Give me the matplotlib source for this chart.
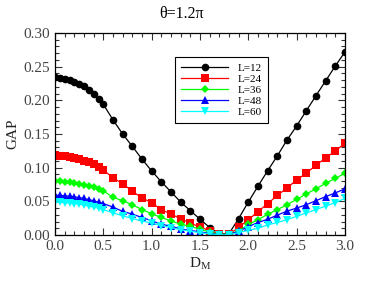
import numpy as np
import matplotlib
matplotlib.use("Agg")
from matplotlib import pyplot as plt
from matplotlib.ticker import MultipleLocator

# D_M grid: step 0.05 up to 0.5, then step 0.1
dm = [0.0, 0.05, 0.1, 0.15, 0.2, 0.25, 0.3, 0.35, 0.4, 0.45, 0.5,
      0.6, 0.7, 0.8, 0.9, 1.0, 1.1, 1.2, 1.3, 1.4, 1.5, 1.6, 1.7, 1.8,
      1.9, 2.0, 2.1, 2.2, 2.3, 2.4, 2.5, 2.6, 2.7, 2.8, 2.9, 3.0]

gap_12 = [0.234, 0.233, 0.2316, 0.2296, 0.227, 0.2245, 0.2206, 0.216, 0.2095, 0.202, 0.194,
          0.171, 0.150, 0.1316, 0.1127, 0.0951, 0.079, 0.064, 0.049, 0.036, 0.0236, 0.011,
          0.0015, 0.002, 0.0245, 0.049, 0.0725, 0.0955, 0.1176, 0.141, 0.162, 0.1846,
          0.207, 0.229, 0.251, 0.272]
gap_24 = [0.119, 0.118, 0.1172, 0.1157, 0.1142, 0.1127, 0.110, 0.1082, 0.105, 0.1016, 0.0965,
          0.085, 0.076, 0.065, 0.055, 0.048, 0.0377, 0.031, 0.0242, 0.0175, 0.012, 0.0062,
          0.001, 0.001, 0.0113, 0.0227, 0.0347, 0.0467, 0.0587, 0.070, 0.0816, 0.092,
          0.1036, 0.1145, 0.125, 0.136]
gap_36 = [0.080, 0.0798, 0.0793, 0.0786, 0.0776, 0.0764, 0.0748, 0.0729, 0.0707, 0.0682, 0.0655,
          0.056, 0.051, 0.045, 0.0377, 0.0317, 0.026, 0.021, 0.016, 0.0127, 0.0088, 0.0041,
          0.001, 0.001, 0.006, 0.0156, 0.0227, 0.0307, 0.0377, 0.045, 0.053, 0.0611,
          0.0686, 0.0767, 0.0842, 0.0917]
gap_48 = [0.059, 0.0588, 0.0583, 0.0576, 0.0567, 0.0556, 0.0543, 0.0527, 0.0508, 0.0488, 0.0466,
          0.0415, 0.035, 0.031, 0.026, 0.0212, 0.016, 0.013, 0.0092, 0.0065, 0.005, 0.002,
          0.0008, 0.0008, 0.0055, 0.0125, 0.0185, 0.0235, 0.0295, 0.0355, 0.040, 0.045,
          0.051, 0.057, 0.0625, 0.0686]
gap_60 = [0.0487, 0.0485, 0.048, 0.0474, 0.0466, 0.0456, 0.0444, 0.043, 0.0414, 0.0396, 0.0376,
          0.033, 0.0285, 0.0245, 0.021, 0.0175, 0.014, 0.011, 0.008, 0.0055, 0.0035, 0.0015,
          0.0005, 0.0005, 0.0035, 0.007, 0.010, 0.015, 0.0186, 0.0227, 0.0277, 0.0327,
          0.0377, 0.043, 0.048, 0.0545]

series = [
    ("L=12", gap_12, "black", "o"),
    ("L=24", gap_24, "red", "s"),
    ("L=36", gap_36, "#00ff00", "D"),
    ("L=48", gap_48, "blue", "^"),
    ("L=60", gap_60, "cyan", "v"),
]

plt.rcParams['font.family'] = ['Liberation Serif', 'DejaVu Serif']
plt.rcParams['mathtext.fontset'] = 'stix'

fig = plt.figure(figsize=(3.82, 2.87), dpi=100)
ax = fig.add_axes([55 / 382, 1 - 235 / 287, 290 / 382, 202 / 287])

sizes = {"o": 5.5, "s": 5.5, "D": 4, "^": 5.5, "v": 5.5}
for label, vals, col, mk in series:
    ax.plot(dm, vals, color=col, marker=mk, markersize=sizes[mk], lw=0.9,
            markeredgewidth=0, label=label)

ax.set_xlim(0, 3.0)
ax.set_ylim(0, 0.30)
ax.xaxis.set_major_locator(MultipleLocator(0.5))
ax.xaxis.set_minor_locator(MultipleLocator(0.1))
ax.yaxis.set_major_locator(MultipleLocator(0.05))
ax.yaxis.set_minor_locator(MultipleLocator(0.01))
ax.xaxis.set_major_formatter(matplotlib.ticker.FormatStrFormatter('%.1f'))
ax.yaxis.set_major_formatter(matplotlib.ticker.FormatStrFormatter('%.2f'))
ax.tick_params(which='both', direction='in', top=True, right=True, labelsize=11,
               colors='#333333', labelcolor='#444444')
ax.tick_params(which='major', length=5, width=0.8)
ax.tick_params(which='minor', length=3, width=0.8)
for s in ax.spines.values():
    s.set_linewidth(0.9)

ax.set_xlabel(r'D$_{\mathregular{M}}$', fontsize=11, color='#222222', labelpad=2)
ax.set_ylabel('GAP', fontsize=11, color='#222222', labelpad=3)
fig.text(182 / 382, 1 - 14 / 287, 'θ=1.2π', fontsize=11.5, ha='center', va='center')

leg = ax.legend(loc='upper left', bbox_to_anchor=(0.414, 0.882), borderaxespad=0,
                fontsize=8, numpoints=1, handlelength=4.2, handletextpad=0.9,
                labelspacing=0.12, borderpad=0.55, fancybox=False, framealpha=1,
                edgecolor='black')
leg.get_frame().set_linewidth(0.8)

fig.savefig("out.png", dpi=100)
